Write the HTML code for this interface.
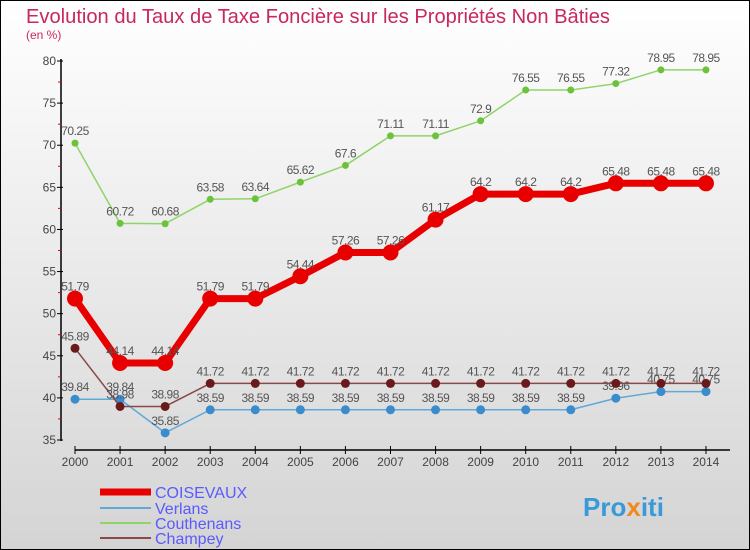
<!DOCTYPE html>
<html><head><meta charset="utf-8"><style>
html,body{margin:0;padding:0}
body{width:750px;height:550px;overflow:hidden;font-family:"Liberation Sans",sans-serif}
svg{display:block}
</style></head><body>
<svg id="chart" width="750" height="550" xmlns="http://www.w3.org/2000/svg">
<defs><linearGradient id="bg" x1="0" y1="0" x2="0" y2="1"><stop offset="0" stop-color="#ffffff"/><stop offset="1" stop-color="#d4d4d4"/></linearGradient></defs>
<rect x="0.5" y="0.5" width="749" height="549" fill="url(#bg)" stroke="#000"/>
<text x="26" y="23" font-size="20" fill="#c8285a" textLength="584" lengthAdjust="spacingAndGlyphs">Evolution du Taux de Taxe Foncière sur les Propriétés Non Bâties</text>
<text x="26" y="39" font-size="12" fill="#c8285a">(en %)</text>
<g id="axes"></g>
<g id="series"></g>
<g id="legend"></g>
<text x="583" y="516" font-size="26" font-weight="bold" fill="#3a9ad9">Pro<tspan fill="#f08a1c">x</tspan>iti</text>
</svg>
<script>
const years=[2000,2001,2002,2003,2004,2005,2006,2007,2008,2009,2010,2011,2012,2013,2014];
const coisevaux=[51.79,44.14,44.14,51.79,51.79,54.44,57.26,57.26,61.17,64.2,64.2,64.2,65.48,65.48,65.48];
const verlans=[39.84,39.84,35.85,38.59,38.59,38.59,38.59,38.59,38.59,38.59,38.59,38.59,39.96,40.75,40.75];
const couthenans=[70.25,60.72,60.68,63.58,63.64,65.62,67.6,71.11,71.11,72.9,76.55,76.55,77.32,78.95,78.95];
const champey=[45.89,38.98,38.98,41.72,41.72,41.72,41.72,41.72,41.72,41.72,41.72,41.72,41.72,41.72,41.72];
const yTicks=[35,40,45,50,55,60,65,70,75,80];
const seriesNames=["COISEVAUX","Verlans","Couthenans","Champey"];
const NS="http://www.w3.org/2000/svg";
const xs=i=>75+i*45.07;
const ys=v=>440-(v-35)*(379/45);
function mk(tag,attrs,parent){const e=document.createElementNS(NS,tag);for(const k in attrs)e.setAttribute(k,attrs[k]);parent.appendChild(e);return e;}
const axes=document.getElementById('axes');
let l=mk('line',{x1:61,y1:59,x2:61,y2:441,stroke:'#000','stroke-width':1.5},axes);


yTicks.forEach(v=>{
 const t=mk('line',{x1:57,x2:63,y1:ys(v),y2:ys(v),stroke:'#000'},axes);
 
 
 const m=mk('line',{x1:58,x2:61,y1:ys(v+2.5),y2:ys(v+2.5),stroke:'#e00'},axes);
 if(v==80)m.remove();
 const tx=mk('text',{x:56,y:ys(v)+4,'font-size':12,fill:'#444','text-anchor':'end'},axes);tx.textContent=v;
 
 
});
l=mk('line',{x1:75,y1:450,x2:730,y2:450,stroke:'#000','stroke-width':1.5},axes);


years.forEach((y,i)=>{
 const t=mk('line',{x1:xs(i),x2:xs(i),y1:446,y2:454,stroke:'#000'},axes);
 
 
 const tx=mk('text',{x:xs(i),y:466,'font-size':12,fill:'#444','text-anchor':'middle'},axes);tx.textContent=y;
 
 
});
const sg=document.getElementById('series');
const defs=[[couthenans,'#8fd46a','#6cc23a',1.5,3.5,'couthenans'],[verlans,'#5fa8d8','#3a8ccc',1.5,4.5,'verlans'],[champey,'#8a4848','#6a1a1a',1.5,4.5,'champey'],[coisevaux,'#e80000','#e80000',7,8,'coisevaux']];
defs.forEach(([data,lc,pc,w,r,name])=>{
 const pts=data.map((v,i)=>xs(i)+','+ys(v)).join(' ');
 const p=mk('polyline',{points:pts,fill:'none',stroke:lc,'stroke-width':w,'stroke-linejoin':'round'},sg);
 
 
 data.forEach((v,i)=>{
  const c=mk('circle',{cx:xs(i),cy:ys(v),r:r,fill:pc},sg);
  
  
  const tx=mk('text',{x:xs(i),y:ys(v)-8,'font-size':12,fill:'#555','text-anchor':'middle','letter-spacing':'-0.5'},sg);
  tx.textContent=String(v);
  
  
 });
});
const lg=document.getElementById('legend');
const lcol=['#e80000','#5fa8d8','#8fd46a','#8a4848'],lw=[7,2,2,2],ly=[492,508,523,538];
seriesNames.forEach((n,i)=>{
 const a=mk('line',{x1:100,x2:151,y1:ly[i],y2:ly[i],stroke:lcol[i],'stroke-width':lw[i]},lg);
 
 
 const t=mk('text',{x:155,y:ly[i]+6,'font-size':16,fill:'#5a5aff'},lg);t.textContent=n;
 
 
});
</script>
</body></html>
